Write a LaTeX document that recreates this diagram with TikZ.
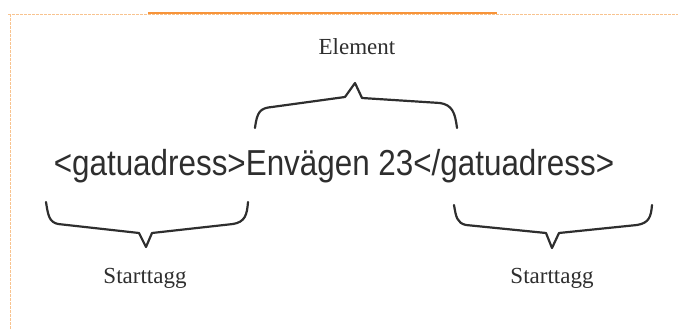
\documentclass[tikz,border=0pt]{standalone}
\usepackage{fontspec}
\setmainfont{Liberation Serif}
\newfontfamily\arialfont{Liberation Sans}
\definecolor{ink}{HTML}{2E2E2E}
\definecolor{frameorange}{HTML}{F7943A}
\definecolor{lightorange}{HTML}{F8C38F}
\tikzset{
  label/.style={font=\fontsize{23}{26}\selectfont, text=ink, inner sep=0pt},
  bracepath/.style={draw=ink, line width=2.2pt, line join=round, line cap=round},
}
\begin{document}
\begin{tikzpicture}[x=1pt,y=-1pt]
\useasboundingbox (0,0) rectangle (678,329);
% frame
\draw[lightorange, line width=0.8pt, dash pattern=on 3pt off 1pt] (8,14) -- (678,14);
\draw[lightorange, line width=0.8pt, dash pattern=on 3pt off 1pt] (10,14) -- (10,329);
\draw[frameorange, line width=2.6pt] (148,13) -- (497,13);
% main text
\node[anchor=base, inner sep=0pt, text=ink] (code) at (334,175)
  {\scalebox{1}[1.15]{\arialfont\fontsize{31.4}{36}\selectfont <gatuadress>Envägen 23</gatuadress>}};
% labels
\node[label] (elem) at (357,47) {Element};
\node[label] (st1) at (145,278) {Starttagg};
\node[label] (st2) at (552,278) {Starttagg};
% top brace
\draw[bracepath] (255,128) .. controls (257,112) and (260,108) .. (272,107)
  -- (345,97) -- (355,83) -- (362,98) -- (440,103)
  .. controls (452,105) and (455,112) .. (457,128);
% bottom left brace
\draw[bracepath] (46,202) .. controls (48,215) and (49,222) .. (58,224)
  -- (139,233) -- (146,247) -- (152,233) -- (233,224)
  .. controls (245,222) and (247,215) .. (248,202);
% bottom right brace
\draw[bracepath] (454,205) .. controls (456,217) and (457,223) .. (466,225)
  -- (546,233) -- (552,248) -- (559,233) -- (637,225)
  .. controls (649,223) and (651,217) .. (652,205);
\end{tikzpicture}
\end{document}
